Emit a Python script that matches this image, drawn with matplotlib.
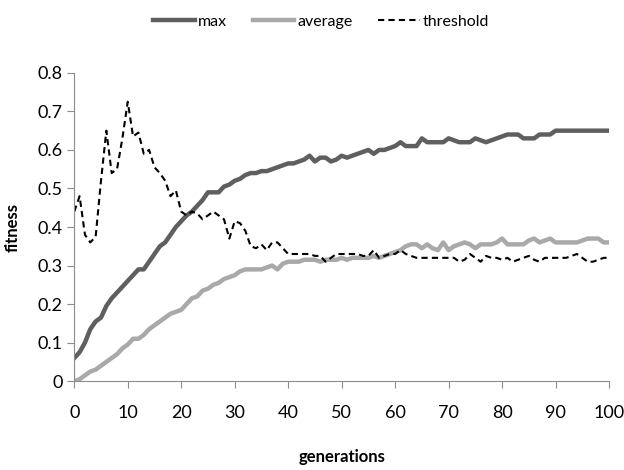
import matplotlib.pyplot as plt

generations = list(range(0, 101))

max_fit = [
    0.06, 0.075, 0.10, 0.135, 0.155, 0.165, 0.195, 0.215, 0.23, 0.245,
    0.26, 0.275, 0.29, 0.29, 0.31, 0.33, 0.35, 0.36, 0.38, 0.40,
    0.415, 0.43, 0.44, 0.455, 0.47, 0.49, 0.49, 0.49, 0.505, 0.51,
    0.52, 0.525, 0.535, 0.54, 0.54, 0.545, 0.545, 0.55, 0.555, 0.56,
    0.565, 0.565, 0.57, 0.575, 0.585, 0.57, 0.58, 0.58, 0.57, 0.575,
    0.585, 0.58, 0.585, 0.59, 0.595, 0.60, 0.59, 0.60, 0.60, 0.605,
    0.61, 0.62, 0.61, 0.61, 0.61, 0.63, 0.62, 0.62, 0.62, 0.62,
    0.63, 0.625, 0.62, 0.62, 0.62, 0.63, 0.625, 0.62, 0.625, 0.63,
    0.635, 0.64, 0.64, 0.64, 0.63, 0.63, 0.63, 0.64, 0.64, 0.64,
    0.65, 0.65, 0.65, 0.65, 0.65, 0.65, 0.65, 0.65, 0.65, 0.65, 0.65,
]

average = [
    0.0, 0.005, 0.015, 0.025, 0.03, 0.04, 0.05, 0.06, 0.07, 0.085,
    0.095, 0.11, 0.11, 0.12, 0.135, 0.145, 0.155, 0.165, 0.175, 0.18,
    0.185, 0.20, 0.215, 0.22, 0.235, 0.24, 0.25, 0.255, 0.265, 0.27,
    0.275, 0.285, 0.29, 0.29, 0.29, 0.29, 0.295, 0.30, 0.29, 0.305,
    0.31, 0.31, 0.31, 0.315, 0.315, 0.315, 0.31, 0.315, 0.315, 0.315,
    0.32, 0.315, 0.32, 0.32, 0.32, 0.32, 0.325, 0.32, 0.325, 0.33,
    0.335, 0.34, 0.35, 0.355, 0.355, 0.345, 0.355, 0.345, 0.34, 0.36,
    0.34, 0.35, 0.355, 0.36, 0.355, 0.345, 0.355, 0.355, 0.355, 0.36,
    0.37, 0.355, 0.355, 0.355, 0.355, 0.365, 0.37, 0.36, 0.365, 0.37,
    0.36, 0.36, 0.36, 0.36, 0.36, 0.365, 0.37, 0.37, 0.37, 0.36, 0.36,
]

threshold = [
    0.44, 0.48, 0.38, 0.36, 0.375, 0.52, 0.65, 0.54, 0.55, 0.63,
    0.725, 0.635, 0.645, 0.59, 0.60, 0.555, 0.54, 0.52, 0.48, 0.495,
    0.44, 0.43, 0.44, 0.435, 0.42, 0.43, 0.44, 0.43, 0.42, 0.37,
    0.415, 0.41, 0.39, 0.35, 0.345, 0.355, 0.34, 0.36, 0.36, 0.345,
    0.33, 0.33, 0.33, 0.33, 0.33, 0.325, 0.325, 0.31, 0.32, 0.33,
    0.33, 0.33, 0.33, 0.33, 0.325, 0.325, 0.34, 0.32, 0.325, 0.33,
    0.33, 0.34, 0.33, 0.325, 0.32, 0.32, 0.32, 0.32, 0.32, 0.32,
    0.32, 0.32, 0.31, 0.315, 0.33, 0.32, 0.31, 0.325, 0.32, 0.32,
    0.315, 0.32, 0.31, 0.315, 0.32, 0.325, 0.315, 0.31, 0.32, 0.32,
    0.32, 0.32, 0.32, 0.325, 0.33, 0.32, 0.31, 0.31, 0.315, 0.32, 0.32,
]

x_ticks = [0, 10, 20, 30, 40, 50, 60, 70, 80, 90, 100]
y_ticks = [0, 0.1, 0.2, 0.3, 0.4, 0.5, 0.6, 0.7, 0.8]

plt.rcParams['font.family'] = ['Lato', 'DejaVu Sans']

fig = plt.figure(figsize=(6.24, 4.70), dpi=100)
ax = fig.add_axes([0.119, 0.189, 0.857, 0.656])

ax.plot(generations, max_fit, color="#5f5f5f", linewidth=3.2, label="max")
ax.plot(generations, average, color="#a9a9a9", linewidth=3.2, label="average")
ax.plot(generations, threshold, color="black", linewidth=1.5,
        linestyle=(0, (3, 2)), label="threshold")

ax.set_xlim(0, 100)
ax.set_ylim(0, 0.8)
ax.set_xticks(x_ticks)
ax.set_yticks(y_ticks)
ax.set_xticklabels([str(t) for t in x_ticks])
ax.set_yticklabels(["0"] + [f"{t:.1f}" for t in y_ticks[1:]])

for side in ["top", "right"]:
    ax.spines[side].set_visible(False)
for side in ["left", "bottom"]:
    ax.spines[side].set_color("#8c8c8c")

ax.tick_params(axis="both", colors="#8c8c8c", labelcolor="black",
               labelsize=13, length=5)
ax.tick_params(axis="x", pad=12)

ax.set_xlabel("generations", fontsize=12, fontweight="bold", labelpad=20)
ax.set_ylabel("fitness", fontsize=12, fontweight="bold", labelpad=12)

fig.legend(loc="upper center", bbox_to_anchor=(0.515, 1.0), ncol=3,
           frameon=False, fontsize=11.5, handlelength=2.6, handletextpad=0.2,
           columnspacing=1.6)

fig.savefig("out.png", dpi=100)
